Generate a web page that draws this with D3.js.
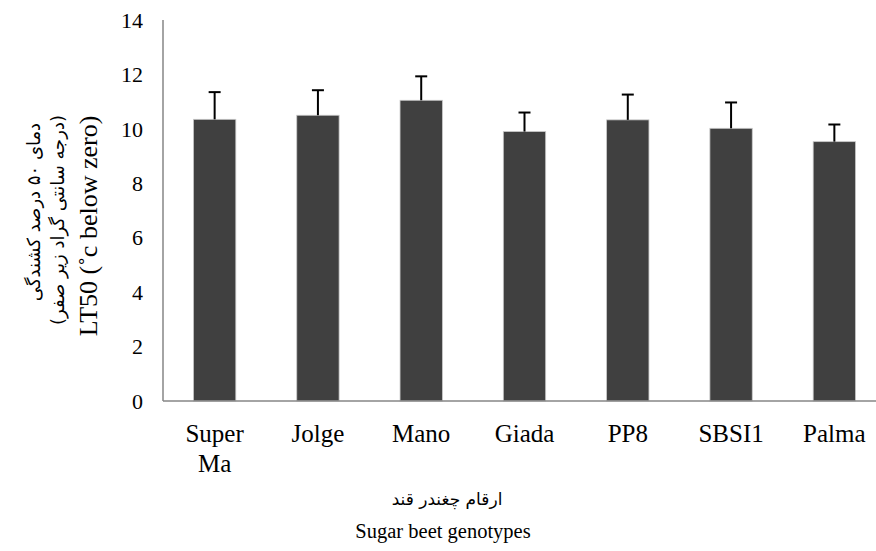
<!DOCTYPE html>
<html>
<head>
<meta charset="utf-8">
<script src="https://cdn.jsdelivr.net/npm/d3@7"></script>
<style>
  body { margin: 0; background: #fff; }
  svg { display: block; }
</style>
</head>
<body>
<svg id="chart" width="876" height="551"></svg>
<script>
// chart data
const genotypes = ["Super Ma", "Jolge", "Mano", "Giada", "PP8", "SBSI1", "Palma"];
const lt50 = [10.35, 10.5, 11.05, 9.9, 10.33, 10.02, 9.53];
const errUp = [1.0, 0.92, 0.88, 0.7, 0.93, 0.95, 0.63];
const yTicks = [0, 2, 4, 6, 8, 10, 12, 14];
const genotypeLines = [["Super", "Ma"], ["Jolge"], ["Mano"], ["Giada"], ["PP8"], ["SBSI1"], ["Palma"]];

const SERIF = "'Liberation Serif', 'DejaVu Serif', serif";
const FA = "'DejaVu Sans', sans-serif";

const svg = d3.select("#chart");

const plotLeft = 163, plotRight = 886, plotTop = 20, plotBottom = 401;

const x = d3.scaleBand()
  .domain(genotypes)
  .range([plotLeft, plotRight])
  .paddingInner(0.59)
  .paddingOuter(0.295);

const y = d3.scaleLinear()
  .domain([0, 14])
  .range([plotBottom, plotTop]);

// bars
svg.append("g").selectAll("rect")
  .data(genotypes)
  .enter().append("rect")
  .attr("x", d => x(d))
  .attr("y", (d, i) => y(lt50[i]))
  .attr("width", x.bandwidth())
  .attr("height", (d, i) => y(0) - y(lt50[i]))
  .style("fill", "#404040")
  .style("stroke", "#c8c8c8")
  .style("stroke-width", 0.8);

// error bars (upper only)
const err = svg.append("g");
genotypes.forEach((g, i) => {
  const cx = x(g) + x.bandwidth() / 2;
  err.append("line")
    .attr("x1", cx).attr("x2", cx)
    .attr("y1", y(lt50[i])).attr("y2", y(lt50[i] + errUp[i]))
    .style("stroke", "#000").style("stroke-width", 2);
  err.append("line")
    .attr("x1", cx - 6).attr("x2", cx + 6)
    .attr("y1", y(lt50[i] + errUp[i])).attr("y2", y(lt50[i] + errUp[i]))
    .style("stroke", "#000").style("stroke-width", 2);
});

// axes lines
svg.append("line")
  .attr("x1", plotLeft).attr("x2", plotLeft)
  .attr("y1", y(14)).attr("y2", y(0))
  .style("stroke", "#868686").style("stroke-width", 1.5);
svg.append("line")
  .attr("x1", plotLeft).attr("x2", plotRight)
  .attr("y1", y(0)).attr("y2", y(0))
  .style("stroke", "#868686").style("stroke-width", 1.5);

// y tick labels
svg.append("g").selectAll("text")
  .data(yTicks)
  .enter().append("text")
  .attr("x", 143)
  .attr("y", d => y(d))
  .attr("dy", "0.35em")
  .attr("text-anchor", "end")
  .style("font-family", SERIF)
  .style("font-size", "22px")
  .text(d => d);

// category labels
genotypes.forEach((g, i) => {
  const t = svg.append("text")
    .attr("text-anchor", "middle")
    .attr("x", x(g) + x.bandwidth() / 2)
    .attr("y", 442)
    .style("font-family", SERIF)
    .style("font-size", "25px");
  genotypeLines[i].forEach((line, j) => {
    t.append("tspan")
      .attr("x", x(g) + x.bandwidth() / 2)
      .attr("dy", j === 0 ? 0 : 30)
      .text(line);
  });
});

// x axis titles
svg.append("text")
  .attr("x", 447).attr("y", 505)
  .attr("text-anchor", "middle")
  .attr("direction", "rtl")
  .style("font-family", FA)
  .style("font-size", "17px")
  .text("ارقام چغندر قند");

svg.append("text")
  .attr("x", 443).attr("y", 538)
  .attr("text-anchor", "middle")
  .style("font-family", SERIF)
  .style("font-size", "20.5px")
  .text("Sugar beet genotypes");

// y axis titles (rotated)
const yTitle = [
  { text: "دمای ۵۰ درصد کشندگی", x: 34, fam: FA, size: "18px", cy: 212 },
  { text: "(درجه سانتی گراد زیر صفر)", x: 58, fam: FA, size: "18px", cy: 220 },
  { text: "LT50 (˚c below zero)", x: 88, fam: SERIF, size: "26px", cy: 226 }
];
yTitle.forEach(t => {
  svg.append("text")
    .attr("transform", "translate(" + t.x + "," + t.cy + ") rotate(-90)")
    .attr("text-anchor", "middle")
    .attr("dy", "0.35em")
    .style("font-family", t.fam)
    .style("font-size", t.size)
    .text(t.text);
});
</script>
</body>
</html>
